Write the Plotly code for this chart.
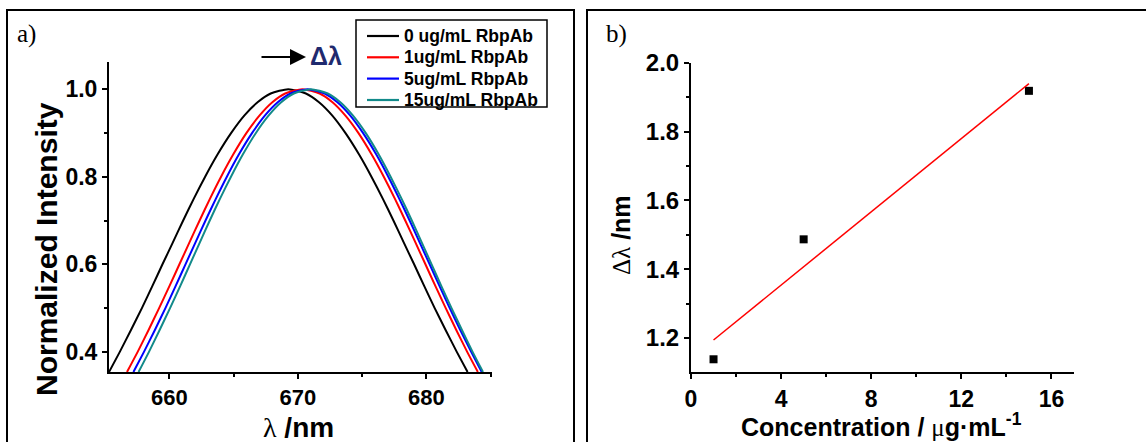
import plotly.graph_objects as go

W, H = 1146, 442

# ---------------- data: panel a) spectra (read from picture) ----------------
# normalized intensity levels, rising flank up to the peak
levels_up = [0.354, 0.40, 0.45, 0.50, 0.55, 0.60, 0.65, 0.70, 0.75, 0.80,
             0.85, 0.90, 0.94, 0.97, 0.99, 1.00]
# falling flank (after the peak)
levels_down = [0.99, 0.97, 0.94, 0.90, 0.85, 0.80, 0.75, 0.70, 0.65, 0.60,
               0.55, 0.50, 0.45, 0.40, 0.354]

names = ["0 ug/mL RbpAb", "1ug/mL RbpAb", "5ug/mL RbpAb", "15ug/mL RbpAb"]
colors = ["#000000", "#ff0000", "#0000ff", "#128a8a"]

wl_up_0 = [655.30, 656.14, 657.01, 657.86, 658.67, 659.46, 660.27, 661.07, 661.90, 662.78,
           663.73, 664.81, 665.84, 666.86, 667.88, 669.25]
wl_down_0 = [670.62, 671.64, 672.66, 673.69, 674.77, 675.72, 676.60, 677.43, 678.23, 679.04,
             679.83, 680.64, 681.49, 682.36, 683.20]

wl_up_1 = [656.70, 657.53, 658.38, 659.20, 660.00, 660.78, 661.56, 662.35, 663.16, 664.02,
           664.95, 666.00, 667.02, 668.01, 669.01, 670.35]
wl_down_1 = [671.69, 672.69, 673.68, 674.70, 675.75, 676.68, 677.54, 678.35, 679.14, 679.92,
             680.70, 681.50, 682.32, 683.17, 684.00]

wl_up_5 = [657.20, 658.02, 658.87, 659.69, 660.48, 661.25, 662.03, 662.81, 663.62, 664.47,
           665.39, 666.44, 667.44, 668.43, 669.42, 670.75]
wl_down_5 = [672.08, 673.07, 674.06, 675.06, 676.11, 677.03, 677.88, 678.69, 679.47, 680.25,
             681.02, 681.81, 682.63, 683.48, 684.30]

wl_up_15 = [657.60, 658.41, 659.24, 660.05, 660.84, 661.60, 662.37, 663.14, 663.94, 664.79,
            665.70, 666.73, 667.73, 668.70, 669.68, 671.00]
wl_down_15 = [672.32, 673.30, 674.27, 675.27, 676.30, 677.21, 678.06, 678.86, 679.63, 680.40,
              681.16, 681.95, 682.76, 683.59, 684.40]

wl_sets = [(wl_up_0, wl_down_0), (wl_up_1, wl_down_1),
           (wl_up_5, wl_down_5), (wl_up_15, wl_down_15)]

# ---------------- data: panel b) shift vs concentration ----------------
conc = [1, 5, 15]
shift = [1.138, 1.487, 1.919]
fit_x = [1, 15]
fit_y = [1.194, 1.940]

# ---------------- figure ----------------
fig = go.Figure()

for (wl_u, wl_d), nm, col in zip(wl_sets, names, colors):
    fig.add_trace(go.Scatter(
        x=wl_u + wl_d, y=levels_up + levels_down,
        mode="lines", line=dict(color=col, width=2, shape="spline", smoothing=0.6),
        name=nm, xaxis="x", yaxis="y", showlegend=False))

fig.add_trace(go.Scatter(x=conc, y=shift, mode="markers",
                         marker=dict(symbol="square", size=8, color="black"),
                         xaxis="x2", yaxis="y2", showlegend=False))
fig.add_trace(go.Scatter(x=fit_x, y=fit_y, mode="lines",
                         line=dict(color="#ff0000", width=1.5),
                         xaxis="x2", yaxis="y2", showlegend=False))

FONT = "Liberation Sans, Arial, sans-serif"
SERIF = "Liberation Serif, Times New Roman, serif"


def px_x(p):
    return p / W


def px_y(p):
    return 1 - p / H


def axis_style(size):
    return dict(showline=True, linecolor="black", linewidth=2, ticks="outside",
                ticklen=5, tickwidth=2, tickcolor="black", showgrid=False,
                zeroline=False,
                tickfont=dict(family=FONT, size=size, color="black", weight="bold"),
                minor=dict(ticks="outside", ticklen=3, tickwidth=2, tickcolor="black"))


fig.update_layout(
    width=W, height=H, margin=dict(l=0, r=0, t=0, b=0, autoexpand=False),
    paper_bgcolor="white", plot_bgcolor="white", showlegend=False,
    xaxis=dict(domain=[px_x(109), px_x(492)], anchor="y", range=[655.3, 685.1],
               tickvals=[660, 670, 680], minor_dtick=5, minor_tick0=655, **axis_style(22)),
    yaxis=dict(domain=[px_y(372), px_y(62)], anchor="x", range=[0.354, 1.062],
               tickvals=[0.4, 0.6, 0.8, 1.0], ticktext=["0.4", "0.6", "0.8", "1.0"],
               minor_dtick=0.1, minor_tick0=0.3, **axis_style(23)),
    xaxis2=dict(domain=[px_x(691), px_x(1074)], anchor="y2", range=[0, 17],
                tickvals=[0, 4, 8, 12, 16], minor_dtick=2, minor_tick0=0, **axis_style(23)),
    yaxis2=dict(domain=[px_y(372), px_y(63)], anchor="x2", range=[1.101, 2.0],
                tickvals=[1.2, 1.4, 1.6, 1.8, 2.0], ticktext=["1.2", "1.4", "1.6", "1.8", "2.0"],
                minor_dtick=0.1, minor_tick0=1.1, **axis_style(24)),
)

# panel frames
fig.add_shape(type="rect", xref="paper", yref="paper",
              x0=px_x(7), x1=px_x(574), y0=-0.1, y1=px_y(10),
              line=dict(color="black", width=2), layer="below")
fig.add_shape(type="rect", xref="paper", yref="paper",
              x0=px_x(587), x1=1.1, y0=-0.1, y1=px_y(10),
              line=dict(color="black", width=2), layer="below")

# legend box (drawn to match the original's compact spacing)
fig.add_shape(type="rect", xref="paper", yref="paper",
              x0=px_x(356), x1=px_x(547), y0=px_y(107), y1=px_y(20),
              line=dict(color="black", width=1.5), fillcolor="white", layer="above")
row_y = [36, 57.3, 78.6, 100]
for nm, col, ry in zip(names, colors, row_y):
    fig.add_shape(type="line", xref="paper", yref="paper",
                  x0=px_x(367), x1=px_x(399), y0=px_y(ry), y1=px_y(ry),
                  line=dict(color=col, width=2.2), layer="above")
    fig.add_annotation(text=nm, xref="paper", yref="paper", showarrow=False,
                       x=px_x(402), y=px_y(ry), xanchor="left", yanchor="middle",
                       font=dict(family=FONT, size=17.5, color="black", weight="bold"))

SER = "<span style='font-family:Liberation Serif;font-weight:normal'>"
ann = []
ann.append(dict(text="a)", x=px_x(15), y=px_y(34), xanchor="left", yanchor="middle",
                font=dict(family=SERIF, size=25, color="black")))
ann.append(dict(text="b)", x=px_x(604), y=px_y(34), xanchor="left", yanchor="middle",
                font=dict(family=SERIF, size=25, color="black")))
ann.append(dict(text="Normalized Intensity", x=px_x(46), y=px_y(249), textangle=-90,
                xanchor="center", yanchor="middle",
                font=dict(family=FONT, size=30, color="black", weight="bold")))
ann.append(dict(text=SER + "λ</span> /nm",
                x=px_x(298), y=px_y(427), xanchor="center", yanchor="middle",
                font=dict(family=FONT, size=28, color="black", weight="bold")))
ann.append(dict(text=SER + "Δλ</span> /nm",
                x=px_x(621), y=px_y(235), textangle=-90, xanchor="center", yanchor="middle",
                font=dict(family=FONT, size=25, color="black", weight="bold")))
ann.append(dict(text="Concentration / " + SER + "μ</span>g·mL<sup>-1</sup>",
                x=px_x(881), y=px_y(425), xanchor="center", yanchor="middle",
                font=dict(family=FONT, size=25, color="black", weight="bold")))
ann.append(dict(text="Δλ", x=px_x(326), y=px_y(56), xanchor="center", yanchor="middle",
                font=dict(family=FONT, size=25, color="#1f2a6e", weight="bold")))
for a in ann:
    a.update(xref="paper", yref="paper", showarrow=False)
    fig.add_annotation(**a)

# arrow
fig.add_annotation(xref="paper", yref="paper", x=px_x(306), y=px_y(57),
                   axref="pixel", ayref="pixel", ax=-46, ay=0, text="",
                   showarrow=True, arrowhead=2, arrowsize=1.6, arrowwidth=2,
                   arrowcolor="black")

fig.write_html("out.html",
               post_script="document.body.style.margin='0';"
                           "document.documentElement.style.margin='0';"
                           "document.body.style.overflow='hidden';")
